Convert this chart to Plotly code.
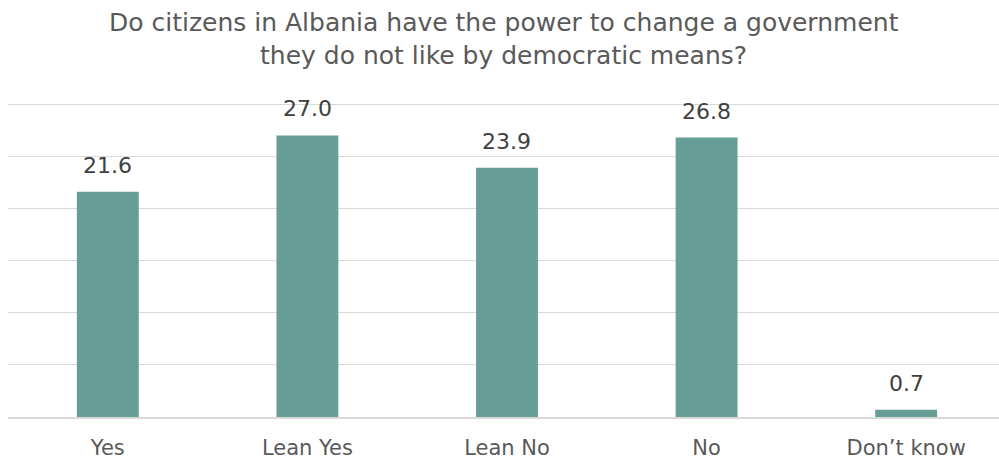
import plotly.graph_objects as go

categories = ["Yes", "Lean Yes", "Lean No", "No", "Don’t know"]
values = [21.6, 27.0, 23.9, 26.8, 0.7]
value_labels = [f"{v:.1f}" for v in values]

title_lines = ["Do citizens in Albania have the power to change a government",
               "they do not like by democratic means?"]

FONT = "'DejaVu Sans', sans-serif"
TEXT_COLOR = "#595959"
LABEL_COLOR = "#404040"
BAR_COLOR = "#669D96"
GRID_COLOR = "#D9D9D9"

TOP, BOTTOM = 101, 45
PLOT_H = 462 - TOP - BOTTOM

fig = go.Figure(
    go.Bar(
        x=list(range(len(categories))),
        y=values,
        width=0.31,
        marker=dict(color=BAR_COLOR, line=dict(width=0)),
        hoverinfo="skip",
    )
)

# value labels above each bar
for i, (v, lab) in enumerate(zip(values, value_labels)):
    fig.add_annotation(
        x=i, y=v, xref="x", yref="y",
        text=lab, showarrow=False,
        yanchor="bottom", yshift=12,
        font=dict(family=FONT, size=22, color=LABEL_COLOR),
    )

# two-line title, centred above the plot
for k, line in enumerate(title_lines):
    y_px = 22 + 33 * k
    fig.add_annotation(
        x=0.5, xref="paper", xanchor="center",
        y=1 + (TOP - y_px) / PLOT_H, yref="paper", yanchor="middle",
        text=line, showarrow=False,
        font=dict(family=FONT, size=25, color=TEXT_COLOR),
    )

fig.update_layout(
    width=999,
    height=462,
    margin=dict(l=8, r=0, t=TOP, b=BOTTOM),
    paper_bgcolor="white",
    plot_bgcolor="white",
    showlegend=False,
    xaxis=dict(
        tickmode="array",
        tickvals=list(range(len(categories))),
        ticktext=categories,
        range=[-0.5, 4.465],
        showgrid=False,
        showline=True,
        linecolor=GRID_COLOR,
        linewidth=1.5,
        ticks="",
        tickfont=dict(family=FONT, size=21, color=TEXT_COLOR),
        ticklabelstandoff=11,
    ),
    yaxis=dict(
        range=[0, 30.3],
        tickvals=[5, 10, 15, 20, 25, 30],
        showgrid=True,
        gridcolor=GRID_COLOR,
        gridwidth=1,
        showticklabels=False,
        zeroline=False,
        showline=False,
    ),
)

fig.write_html("out.html")
